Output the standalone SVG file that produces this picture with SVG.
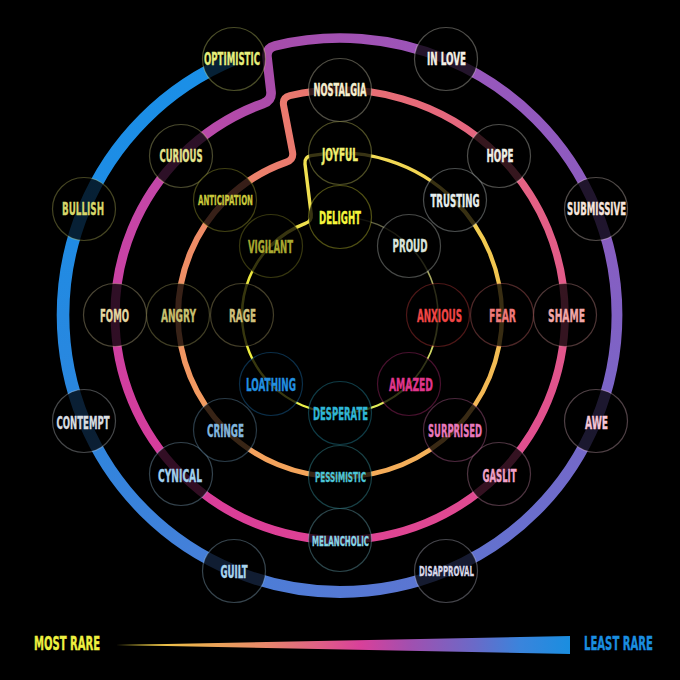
<svg xmlns="http://www.w3.org/2000/svg" width="680" height="680" viewBox="0 0 680 680">
<style>
.seg{fill:none;stroke-linecap:butt;stroke-linejoin:round}
.node circle{fill:#000;fill-opacity:.77;stroke-width:1.2;stroke-opacity:.32}
.node text,.leg{font-family:"Liberation Sans Narrow","DejaVu Sans Condensed","Liberation Sans",sans-serif;font-weight:700;text-anchor:middle;font-size:18px;fill:currentColor;stroke:currentColor;stroke-width:.35}
.node text.sm{font-size:14.5px;stroke-width:.3}
.leg{font-size:20px}
</style>
<defs>
<linearGradient id="g1a" gradientUnits="userSpaceOnUse" x1="234" y1="59.1" x2="84.1" y2="209"><stop offset="0" stop-color="#1a90e8"/><stop offset="1" stop-color="#1e8ce4"/></linearGradient>
<linearGradient id="g1b" gradientUnits="userSpaceOnUse" x1="84.1" y1="209" x2="84.1" y2="421"><stop offset="0" stop-color="#1e8ce4"/><stop offset="1" stop-color="#2c86de"/></linearGradient>
<linearGradient id="g1c" gradientUnits="userSpaceOnUse" x1="84.1" y1="421" x2="234" y2="570.9"><stop offset="0" stop-color="#2c86de"/><stop offset="1" stop-color="#4a7ed8"/></linearGradient>
<linearGradient id="g1d" gradientUnits="userSpaceOnUse" x1="234" y1="570.9" x2="446" y2="570.9"><stop offset="0" stop-color="#4a7ed8"/><stop offset="1" stop-color="#5e74d0"/></linearGradient>
<linearGradient id="g1e" gradientUnits="userSpaceOnUse" x1="446" y1="570.9" x2="595.9" y2="421"><stop offset="0" stop-color="#5e74d0"/><stop offset="1" stop-color="#7866c8"/></linearGradient>
<linearGradient id="g1f" gradientUnits="userSpaceOnUse" x1="595.9" y1="421" x2="595.9" y2="209"><stop offset="0" stop-color="#7866c8"/><stop offset="1" stop-color="#8a5cc0"/></linearGradient>
<linearGradient id="g1g" gradientUnits="userSpaceOnUse" x1="595.9" y1="209" x2="446" y2="59.1"><stop offset="0" stop-color="#8a5cc0"/><stop offset="1" stop-color="#9a56bb"/></linearGradient>
<linearGradient id="g12" gradientUnits="userSpaceOnUse" x1="446" y1="59.1" x2="180.9" y2="155.9"><stop offset="0" stop-color="#9a56bb"/><stop offset=".6" stop-color="#a84caa"/><stop offset="1" stop-color="#c048a8"/></linearGradient>
<linearGradient id="g2a" gradientUnits="userSpaceOnUse" x1="180.9" y1="155.9" x2="115" y2="315"><stop offset="0" stop-color="#c048a8"/><stop offset="1" stop-color="#cc40a2"/></linearGradient>
<linearGradient id="g2b" gradientUnits="userSpaceOnUse" x1="115" y1="315" x2="180.9" y2="474.1"><stop offset="0" stop-color="#cc40a2"/><stop offset="1" stop-color="#d83c9a"/></linearGradient>
<linearGradient id="g2c" gradientUnits="userSpaceOnUse" x1="180.9" y1="474.1" x2="340" y2="540"><stop offset="0" stop-color="#d83c9a"/><stop offset="1" stop-color="#de4294"/></linearGradient>
<linearGradient id="g2d" gradientUnits="userSpaceOnUse" x1="340" y1="540" x2="499.1" y2="474.1"><stop offset="0" stop-color="#de4294"/><stop offset="1" stop-color="#e04c90"/></linearGradient>
<linearGradient id="g2e" gradientUnits="userSpaceOnUse" x1="499.1" y1="474.1" x2="565" y2="315"><stop offset="0" stop-color="#e04c90"/><stop offset="1" stop-color="#e2588a"/></linearGradient>
<linearGradient id="g2f" gradientUnits="userSpaceOnUse" x1="565" y1="315" x2="499.1" y2="155.9"><stop offset="0" stop-color="#e2588a"/><stop offset="1" stop-color="#e46482"/></linearGradient>
<linearGradient id="g23" gradientUnits="userSpaceOnUse" x1="499.1" y1="155.9" x2="225.4" y2="200.4"><stop offset="0" stop-color="#e46482"/><stop offset=".53" stop-color="#e87070"/><stop offset=".75" stop-color="#ea7a6e"/><stop offset="1" stop-color="#ec8868"/></linearGradient>
<linearGradient id="g3a" gradientUnits="userSpaceOnUse" x1="225.4" y1="200.4" x2="178" y2="315"><stop offset="0" stop-color="#ec8868"/><stop offset="1" stop-color="#f09264"/></linearGradient>
<linearGradient id="g3b" gradientUnits="userSpaceOnUse" x1="178" y1="315" x2="225.4" y2="429.6"><stop offset="0" stop-color="#f09264"/><stop offset="1" stop-color="#f39e5e"/></linearGradient>
<linearGradient id="g3c" gradientUnits="userSpaceOnUse" x1="225.4" y1="429.6" x2="340" y2="477"><stop offset="0" stop-color="#f39e5e"/><stop offset="1" stop-color="#f4a85a"/></linearGradient>
<linearGradient id="g3d" gradientUnits="userSpaceOnUse" x1="340" y1="477" x2="454.6" y2="429.6"><stop offset="0" stop-color="#f4a85a"/><stop offset="1" stop-color="#f4b458"/></linearGradient>
<linearGradient id="g3e" gradientUnits="userSpaceOnUse" x1="454.6" y1="429.6" x2="502" y2="315"><stop offset="0" stop-color="#f4b458"/><stop offset="1" stop-color="#f2c050"/></linearGradient>
<linearGradient id="g3f" gradientUnits="userSpaceOnUse" x1="502" y1="315" x2="454.6" y2="200.4"><stop offset="0" stop-color="#f2c050"/><stop offset="1" stop-color="#f2d050"/></linearGradient>
<linearGradient id="g34" gradientUnits="userSpaceOnUse" x1="454.6" y1="200.4" x2="270.7" y2="245.7"><stop offset="0" stop-color="#f2d050"/><stop offset=".53" stop-color="#f2e058"/><stop offset=".75" stop-color="#f0e050"/><stop offset="1" stop-color="#e8e040"/></linearGradient>
<linearGradient id="g4a" gradientUnits="userSpaceOnUse" x1="270.7" y1="245.7" x2="242" y2="315"><stop offset="0" stop-color="#e8e040"/><stop offset="1" stop-color="#ecec3c"/></linearGradient>
<linearGradient id="g4b" gradientUnits="userSpaceOnUse" x1="242" y1="315" x2="270.7" y2="384.3"><stop offset="0" stop-color="#ecec3c"/><stop offset="1" stop-color="#f0f040"/></linearGradient>
<linearGradient id="g4c" gradientUnits="userSpaceOnUse" x1="270.7" y1="384.3" x2="340" y2="413"><stop offset="0" stop-color="#f0f040"/><stop offset="1" stop-color="#e8f050"/></linearGradient>
<linearGradient id="g4d" gradientUnits="userSpaceOnUse" x1="340" y1="413" x2="409.3" y2="384.3"><stop offset="0" stop-color="#e8f050"/><stop offset="1" stop-color="#d8e860"/></linearGradient>
<linearGradient id="g4e" gradientUnits="userSpaceOnUse" x1="409.3" y1="384.3" x2="438" y2="315"><stop offset="0" stop-color="#d8e860"/><stop offset="1" stop-color="#c8c868"/></linearGradient>
<linearGradient id="g4f" gradientUnits="userSpaceOnUse" x1="438" y1="315" x2="409.3" y2="245.7"><stop offset="0" stop-color="#c8c868"/><stop offset="1" stop-color="#8a8a58"/></linearGradient>
<linearGradient id="g4g" gradientUnits="userSpaceOnUse" x1="409.3" y1="245.7" x2="340" y2="217"><stop offset="0" stop-color="#8a8a58"/><stop offset="1" stop-color="#3a3a30"/></linearGradient>
<linearGradient id="gleg" gradientUnits="userSpaceOnUse" x1="116" y1="0" x2="570" y2="0"><stop offset="0" stop-color="#f0e040"/><stop offset=".17" stop-color="#ecb050"/><stop offset=".32" stop-color="#e88a6a"/><stop offset=".54" stop-color="#d8409a"/><stop offset=".65" stop-color="#a050b0"/><stop offset=".79" stop-color="#6a6ac8"/><stop offset=".89" stop-color="#3a84dc"/><stop offset="1" stop-color="#1a8ee0"/></linearGradient>
</defs>
<rect width="680" height="680" fill="#000"/>
<g id="connectors">
<path class="seg" stroke="url(#g1a)" stroke-width="13" d="M234,59.1 A277,277 0 0 0 84.1,209"/>
<path class="seg" stroke="url(#g1b)" stroke-width="12.6" d="M84.1,209 A277,277 0 0 0 84.1,421"/>
<path class="seg" stroke="url(#g1c)" stroke-width="12.2" d="M84.1,421 A277,277 0 0 0 234,570.9"/>
<path class="seg" stroke="url(#g1d)" stroke-width="11.8" d="M234,570.9 A277,277 0 0 0 446,570.9"/>
<path class="seg" stroke="url(#g1e)" stroke-width="11.3" d="M446,570.9 A277,277 0 0 0 595.9,421"/>
<path class="seg" stroke="url(#g1f)" stroke-width="10.8" d="M595.9,421 A277,277 0 0 0 595.9,209"/>
<path class="seg" stroke="url(#g1g)" stroke-width="10.3" d="M595.9,209 A277,277 0 0 0 446,59.1"/>
<path class="seg" stroke="url(#g12)" stroke-width="9.6" d="M446,59.1 A277,277 0 0 0 274.9,45.8 Q266,48.1 267,57 L271,91.5 Q272,100.5 263.4,103.4 A225,225 0 0 0 180.9,155.9"/>
<path class="seg" stroke="url(#g2a)" stroke-width="9.2" d="M180.9,155.9 A225,225 0 0 0 115,315"/>
<path class="seg" stroke="url(#g2b)" stroke-width="8.8" d="M115,315 A225,225 0 0 0 180.9,474.1"/>
<path class="seg" stroke="url(#g2c)" stroke-width="8.5" d="M180.9,474.1 A225,225 0 0 0 340,540"/>
<path class="seg" stroke="url(#g2d)" stroke-width="8.1" d="M340,540 A225,225 0 0 0 499.1,474.1"/>
<path class="seg" stroke="url(#g2e)" stroke-width="7.8" d="M499.1,474.1 A225,225 0 0 0 565,315"/>
<path class="seg" stroke="url(#g2f)" stroke-width="7.5" d="M565,315 A225,225 0 0 0 499.1,155.9"/>
<path class="seg" stroke="url(#g23)" stroke-width="7" d="M499.1,155.9 A225,225 0 0 0 289.9,95.6 Q282.1,97.6 283.6,105.5 L292.5,151.8 Q294,159.7 286.4,162.1 A162,162 0 0 0 225.4,200.4"/>
<path class="seg" stroke="url(#g3a)" stroke-width="6" d="M225.4,200.4 A162,162 0 0 0 178,315"/>
<path class="seg" stroke="url(#g3b)" stroke-width="5.6" d="M178,315 A162,162 0 0 0 225.4,429.6"/>
<path class="seg" stroke="url(#g3c)" stroke-width="5.2" d="M225.4,429.6 A162,162 0 0 0 340,477"/>
<path class="seg" stroke="url(#g3d)" stroke-width="4.8" d="M340,477 A162,162 0 0 0 454.6,429.6"/>
<path class="seg" stroke="url(#g3e)" stroke-width="4.5" d="M454.6,429.6 A162,162 0 0 0 502,315"/>
<path class="seg" stroke="url(#g3f)" stroke-width="4.2" d="M502,315 A162,162 0 0 0 454.6,200.4"/>
<path class="seg" stroke="url(#g34)" stroke-width="3.4" d="M454.6,200.4 A162,162 0 0 0 311,155.6 Q304.1,157 305,164 L311.2,214.2 Q312,221.1 305.4,223.3 A98,98 0 0 0 270.7,245.7"/>
<path class="seg" stroke="url(#g4a)" stroke-width="2.6" d="M270.7,245.7 A98,98 0 0 0 242,315"/>
<path class="seg" stroke="url(#g4b)" stroke-width="2.4" d="M242,315 A98,98 0 0 0 270.7,384.3"/>
<path class="seg" stroke="url(#g4c)" stroke-width="2.2" d="M270.7,384.3 A98,98 0 0 0 340,413"/>
<path class="seg" stroke="url(#g4d)" stroke-width="2" d="M340,413 A98,98 0 0 0 409.3,384.3"/>
<path class="seg" stroke="url(#g4e)" stroke-width="1.8" d="M409.3,384.3 A98,98 0 0 0 438,315"/>
<path class="seg" stroke="url(#g4f)" stroke-width="1.6" d="M438,315 A98,98 0 0 0 409.3,245.7"/>
<path class="seg" stroke="url(#g4g)" stroke-width="1.4" d="M409.3,245.7 A98,98 0 0 0 340,217"/>
</g>
<g id="n-optimistic" class="node" color="#e6ee7c"><circle cx="234" cy="59" r="31.5" stroke="#e6ee7c"/><text x="232" y="64.5" textLength="56" lengthAdjust="spacingAndGlyphs">OPTIMISTIC</text></g>
<g id="n-bullish" class="node" color="#d6d66a"><circle cx="84" cy="209" r="31.5" stroke="#d6d66a"/><text x="83" y="214.5" textLength="42" lengthAdjust="spacingAndGlyphs">BULLISH</text></g>
<g id="n-contempt" class="node" color="#d8dde2"><circle cx="84" cy="421" r="31.5" stroke="#d8dde2"/><text x="83" y="428.5" textLength="53" lengthAdjust="spacingAndGlyphs">CONTEMPT</text></g>
<g id="n-guilt" class="node" color="#a8d4ee"><circle cx="234" cy="571" r="31.5" stroke="#a8d4ee"/><text x="234" y="577.5" textLength="27" lengthAdjust="spacingAndGlyphs">GUILT</text></g>
<g id="n-disapproval" class="node" color="#d8d8e8"><circle cx="446" cy="571" r="31.5" stroke="#d8d8e8"/><text class="sm" x="446.5" y="576.2" textLength="55" lengthAdjust="spacingAndGlyphs">DISAPPROVAL</text></g>
<g id="n-awe" class="node" color="#f6c6d6"><circle cx="596" cy="421" r="31.5" stroke="#f6c6d6"/><text x="596.5" y="428.5" textLength="23" lengthAdjust="spacingAndGlyphs">AWE</text></g>
<g id="n-submissive" class="node" color="#f6e4dc"><circle cx="596" cy="209" r="31.5" stroke="#f6e4dc"/><text x="596.5" y="214.5" textLength="59" lengthAdjust="spacingAndGlyphs">SUBMISSIVE</text></g>
<g id="n-inlove" class="node" color="#f4efe4"><circle cx="446" cy="59" r="31.5" stroke="#f4efe4"/><text x="446.5" y="64.5" textLength="39" lengthAdjust="spacingAndGlyphs">IN LOVE</text></g>
<g id="n-curious" class="node" color="#e4e48c"><circle cx="181" cy="156" r="31.5" stroke="#e4e48c"/><text x="181" y="161.5" textLength="43" lengthAdjust="spacingAndGlyphs">CURIOUS</text></g>
<g id="n-fomo" class="node" color="#e6d8a2"><circle cx="115" cy="315" r="31.5" stroke="#e6d8a2"/><text x="114.5" y="321.5" textLength="29" lengthAdjust="spacingAndGlyphs">FOMO</text></g>
<g id="n-cynical" class="node" color="#a2d0ee"><circle cx="181" cy="474" r="31.5" stroke="#a2d0ee"/><text x="180" y="481.5" textLength="44" lengthAdjust="spacingAndGlyphs">CYNICAL</text></g>
<g id="n-melancholic" class="node" color="#86d6e6"><circle cx="340" cy="540" r="31.5" stroke="#86d6e6"/><text class="sm" x="340.5" y="546.2" textLength="57" lengthAdjust="spacingAndGlyphs">MELANCHOLIC</text></g>
<g id="n-gaslit" class="node" color="#f0a2c8"><circle cx="499" cy="474" r="31.5" stroke="#f0a2c8"/><text x="499.5" y="481.5" textLength="34" lengthAdjust="spacingAndGlyphs">GASLIT</text></g>
<g id="n-shame" class="node" color="#f2a8a8"><circle cx="565" cy="315" r="31.5" stroke="#f2a8a8"/><text x="566.5" y="321.5" textLength="37" lengthAdjust="spacingAndGlyphs">SHAME</text></g>
<g id="n-hope" class="node" color="#f0f0e6"><circle cx="499" cy="156" r="31.5" stroke="#f0f0e6"/><text x="500" y="161.5" textLength="27" lengthAdjust="spacingAndGlyphs">HOPE</text></g>
<g id="n-nostalgia" class="node" color="#f6f0d0"><circle cx="340" cy="90" r="31.5" stroke="#f6f0d0"/><text x="340" y="96" textLength="53" lengthAdjust="spacingAndGlyphs">NOSTALGIA</text></g>
<g id="n-anticipation" class="node" color="#c8c83c"><circle cx="225" cy="200" r="31.5" stroke="#c8c83c"/><text class="sm" x="225.5" y="205.2" textLength="55" lengthAdjust="spacingAndGlyphs">ANTICIPATION</text></g>
<g id="n-angry" class="node" color="#c8c070"><circle cx="178" cy="315" r="31.5" stroke="#c8c070"/><text x="178.5" y="321.5" textLength="35" lengthAdjust="spacingAndGlyphs">ANGRY</text></g>
<g id="n-cringe" class="node" color="#82b6de"><circle cx="225" cy="430" r="31.5" stroke="#82b6de"/><text x="225.5" y="436.5" textLength="37" lengthAdjust="spacingAndGlyphs">CRINGE</text></g>
<g id="n-pessimistic" class="node" color="#4cc6d8"><circle cx="340" cy="477" r="31.5" stroke="#4cc6d8"/><text class="sm" x="340.5" y="482.2" textLength="51" lengthAdjust="spacingAndGlyphs">PESSIMISTIC</text></g>
<g id="n-surprised" class="node" color="#e878bc"><circle cx="455" cy="430" r="31.5" stroke="#e878bc"/><text x="455" y="436.5" textLength="54" lengthAdjust="spacingAndGlyphs">SURPRISED</text></g>
<g id="n-fear" class="node" color="#f07a7a"><circle cx="502" cy="315" r="31.5" stroke="#f07a7a"/><text x="502.5" y="321.5" textLength="27" lengthAdjust="spacingAndGlyphs">FEAR</text></g>
<g id="n-trusting" class="node" color="#e6eeee"><circle cx="455" cy="200" r="31.5" stroke="#e6eeee"/><text x="455" y="206.5" textLength="49" lengthAdjust="spacingAndGlyphs">TRUSTING</text></g>
<g id="n-joyful" class="node" color="#f0f070"><circle cx="340" cy="153" r="31.5" stroke="#f0f070"/><text x="340" y="160.5" textLength="36" lengthAdjust="spacingAndGlyphs">JOYFUL</text></g>
<g id="n-vigilant" class="node" color="#a8a830"><circle cx="271" cy="246" r="31.5" stroke="#a8a830"/><text x="270.5" y="252.5" textLength="45" lengthAdjust="spacingAndGlyphs">VIGILANT</text></g>
<g id="n-rage" class="node" color="#d0c07c"><circle cx="242" cy="315" r="31.5" stroke="#d0c07c"/><text x="242.5" y="321.5" textLength="27" lengthAdjust="spacingAndGlyphs">RAGE</text></g>
<g id="n-loathing" class="node" color="#2290e0"><circle cx="271" cy="384" r="31.5" stroke="#2290e0"/><text x="271" y="390.5" textLength="50" lengthAdjust="spacingAndGlyphs">LOATHING</text></g>
<g id="n-desperate" class="node" color="#2fb6d6"><circle cx="340" cy="413" r="31.5" stroke="#2fb6d6"/><text x="340.5" y="419.5" textLength="55" lengthAdjust="spacingAndGlyphs">DESPERATE</text></g>
<g id="n-amazed" class="node" color="#e0368e"><circle cx="409" cy="384" r="31.5" stroke="#e0368e"/><text x="411" y="390.5" textLength="44" lengthAdjust="spacingAndGlyphs">AMAZED</text></g>
<g id="n-anxious" class="node" color="#f04646"><circle cx="438" cy="315" r="31.5" stroke="#f04646"/><text x="439.5" y="321.5" textLength="45" lengthAdjust="spacingAndGlyphs">ANXIOUS</text></g>
<g id="n-proud" class="node" color="#dce4dc"><circle cx="409" cy="246" r="31.5" stroke="#dce4dc"/><text x="410" y="251.5" textLength="35" lengthAdjust="spacingAndGlyphs">PROUD</text></g>
<g id="n-delight" class="node" color="#f6f63c"><circle cx="340" cy="217" r="31.5" stroke="#f6f63c"/><text x="340" y="223.5" textLength="42" lengthAdjust="spacingAndGlyphs">DELIGHT</text></g>
<g id="legend">
<text class="leg" x="67" y="650" color="#eef040" textLength="66" lengthAdjust="spacingAndGlyphs">MOST RARE</text>
<polygon points="116,645 570,636 570,654" fill="url(#gleg)"/>
<text class="leg" x="618.5" y="650" color="#1a8ee0" textLength="69" lengthAdjust="spacingAndGlyphs">LEAST RARE</text>
</g>
</svg>
